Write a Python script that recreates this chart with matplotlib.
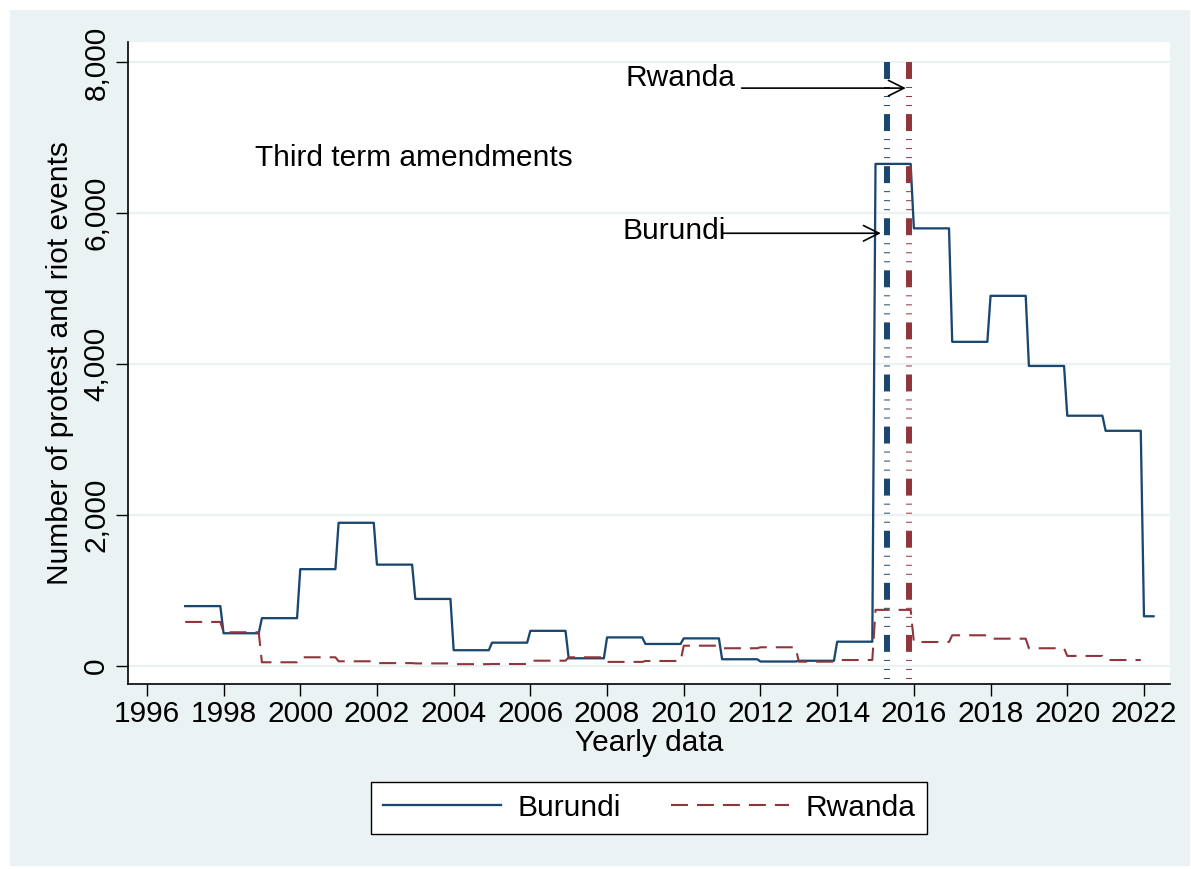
import matplotlib
matplotlib.use('Agg')
import matplotlib.pyplot as plt
from matplotlib.patches import Rectangle
from matplotlib.ticker import FuncFormatter


# yearly protest/riot event counts (held constant across each year's months)
burundi_years = list(range(1997, 2023))
burundi_vals = [790, 430, 630, 1280, 1895, 1340, 885, 205, 305, 462,
                98, 375, 288, 362, 85, 55, 65, 318, 6655, 5800,
                4295, 4905, 3975, 3315, 3115, 655]
burundi_last_month = 3  # 2022 data only runs to April

rwanda_years = list(range(1997, 2022))
rwanda_vals = [580, 443, 45, 111, 58, 34, 30, 20, 22, 66,
               111, 50, 62, 265, 231, 244, 53, 75, 740, 314,
               403, 358, 231, 129, 75]

# third term amendment dates (fractional years)
amend_burundi = 2015.29
amend_rwanda = 2015.88

x_ticks = list(range(1996, 2023, 2))
y_ticks = [0, 2000, 4000, 6000, 8000]

NAVY = '#1A476F'
MAROON = '#90353B'
BG = '#EAF2F3'


def monthly_steps(years, vals, last_month=11):
    xs, ys = [], []
    for i, (y, v) in enumerate(zip(years, vals)):
        end = last_month if i == len(years) - 1 else 11
        xs += [y, y + end / 12]
        ys += [v, v]
    return xs, ys


plt.rcParams['font.family'] = ['Liberation Sans', 'DejaVu Sans']
plt.rcParams['lines.scale_dashes'] = False

fig = plt.figure(figsize=(11.91, 8.69), dpi=100, facecolor='white')
fig.patches.append(Rectangle((10 / 1191, 3 / 869), 1180 / 1191, 856 / 869,
                             transform=fig.transFigure, facecolor=BG,
                             edgecolor='none', zorder=-10))
ax = fig.add_axes([0.1072, 0.2129, 0.8752, 0.7388])
ax.set_facecolor('white')

for v in y_ticks:
    ax.axhline(v, color=BG, lw=1.6, zorder=0)

bx, by = monthly_steps(burundi_years, burundi_vals, burundi_last_month)
rx, ry = monthly_steps(rwanda_years, rwanda_vals)
ax.plot(bx, by, color=NAVY, lw=1.65, label='Burundi', zorder=2)
ax.plot(rx, ry, color=MAROON, lw=1.5, ls=(0, (12.2, 6.5)), label='Rwanda', zorder=2)

ymin, ymax = -243, 8272
vpattern = (0, (12.2, 5.8, 0.7, 5.8, 0.7, 5.8, 0.7, 5.8))
ax.plot([amend_burundi, amend_burundi], [8000, ymin], color=NAVY, lw=4.3,
        ls=vpattern, zorder=3)
ax.plot([amend_rwanda, amend_rwanda], [8000, ymin], color=MAROON, lw=4.3,
        ls=vpattern, zorder=3)

fs = 21.5
ax.text(1998.82, 6730, 'Third term amendments', fontsize=fs, va='center', ha='left')
ax.text(2008.49, 7790, 'Rwanda', fontsize=fs, va='center', ha='left')
ax.text(2008.41, 5760, 'Burundi', fontsize=fs, va='center', ha='left')
arrow = dict(arrowstyle='->', color='black', lw=1.2, mutation_scale=28,
             shrinkA=0, shrinkB=0)
ax.annotate('', xy=(2015.79, 7660), xytext=(2011.51, 7660), arrowprops=arrow)
ax.annotate('', xy=(2015.14, 5735), xytext=(2011.02, 5735), arrowprops=arrow)

ax.set_xlim(1995.5, 2022.68)
ax.set_ylim(ymin, ymax)
ax.set_xticks(x_ticks)
ax.set_yticks(y_ticks)
ax.yaxis.set_major_formatter(FuncFormatter(lambda v, p: f'{int(v):,}'))
for s in ['top', 'right']:
    ax.spines[s].set_visible(False)
for s in ['left', 'bottom']:
    ax.spines[s].set_linewidth(1.2)
ax.tick_params(axis='both', labelsize=fs, length=8.5, width=1.0, direction='out')
ax.tick_params(axis='x', pad=3)
ax.tick_params(axis='y', pad=4)
for lab in ax.get_yticklabels():
    lab.set_rotation(90)
    lab.set_va('center')

ax.set_xlabel('Yearly data', fontsize=fs, labelpad=1)
ax.set_ylabel('Number of protest and riot events', fontsize=fs, labelpad=6)

leg = fig.legend(loc='center', bbox_to_anchor=(0.545, 0.0705), ncol=2,
                 fontsize=fs, frameon=True, fancybox=False, framealpha=1,
                 handlelength=3.95, columnspacing=1.7, borderpad=0.4,
                 handletextpad=0.55, borderaxespad=0)
leg.get_frame().set_facecolor('white')
leg.get_frame().set_edgecolor('black')
leg.get_frame().set_linewidth(1.0)

fig.savefig('out.png', dpi=100, facecolor='white')
